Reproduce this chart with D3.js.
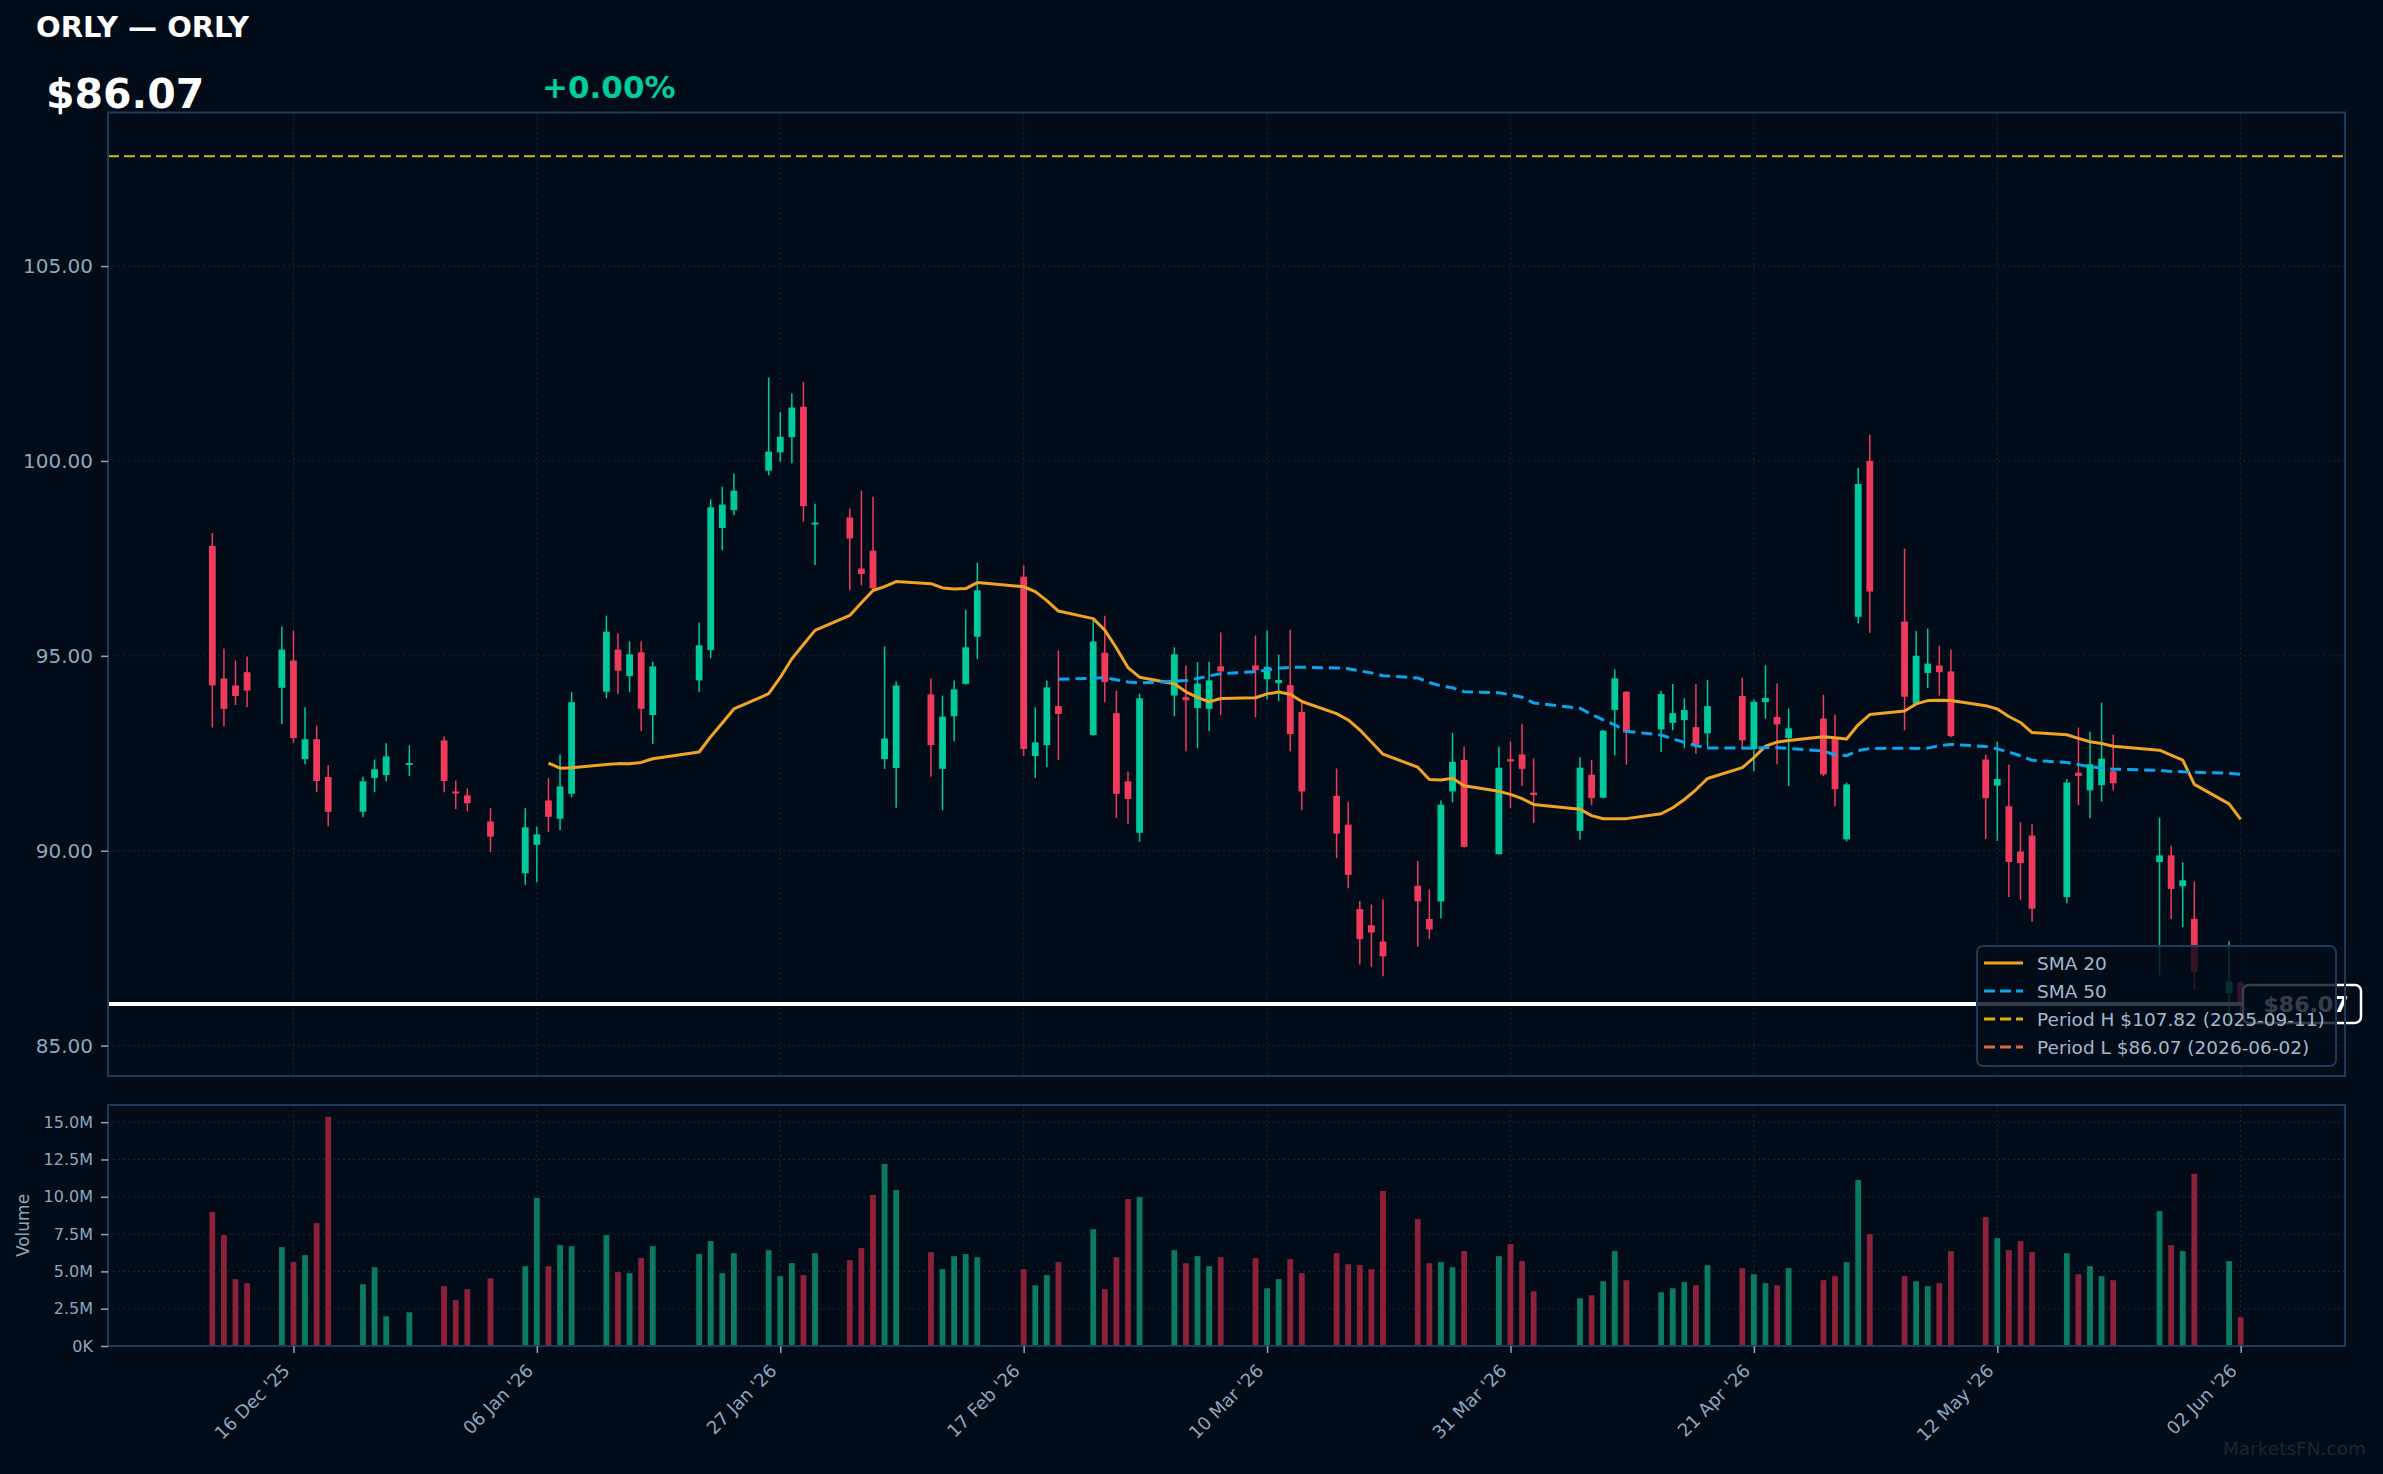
<!DOCTYPE html>
<html><head><meta charset="utf-8">
<script src="https://cdn.jsdelivr.net/npm/d3@7/dist/d3.min.js"></script>
<style>
html,body{margin:0;padding:0;background:#010c18;}
svg{display:block;}
text{font-family:"DejaVu Sans",sans-serif;}
</style></head><body>
<svg id="chart" width="2383" height="1474"></svg>
<script>
// ---------------- DATA ----------------
const dates = ["2025-12-09","2025-12-10","2025-12-11","2025-12-12","2025-12-15","2025-12-16","2025-12-17","2025-12-18","2025-12-19","2025-12-22","2025-12-23","2025-12-24","2025-12-26","2025-12-29","2025-12-30","2025-12-31",
"2026-01-02","2026-01-05","2026-01-06","2026-01-07","2026-01-08","2026-01-09","2026-01-12","2026-01-13","2026-01-14","2026-01-15","2026-01-16","2026-01-20","2026-01-21","2026-01-22","2026-01-23","2026-01-26","2026-01-27","2026-01-28","2026-01-29","2026-01-30",
"2026-02-02","2026-02-03","2026-02-04","2026-02-05","2026-02-06","2026-02-09","2026-02-10","2026-02-11","2026-02-12","2026-02-13","2026-02-17","2026-02-18","2026-02-19","2026-02-20","2026-02-23","2026-02-24","2026-02-25","2026-02-26","2026-02-27",
"2026-03-02","2026-03-03","2026-03-04","2026-03-05","2026-03-06","2026-03-09","2026-03-10","2026-03-11","2026-03-12","2026-03-13","2026-03-16","2026-03-17","2026-03-18","2026-03-19","2026-03-20","2026-03-23","2026-03-24","2026-03-25","2026-03-26","2026-03-27","2026-03-30","2026-03-31",
"2026-04-01","2026-04-02","2026-04-06","2026-04-07","2026-04-08","2026-04-09","2026-04-10","2026-04-13","2026-04-14","2026-04-15","2026-04-16","2026-04-17","2026-04-20","2026-04-21","2026-04-22","2026-04-23","2026-04-24","2026-04-27","2026-04-28","2026-04-29","2026-04-30",
"2026-05-01","2026-05-04","2026-05-05","2026-05-06","2026-05-07","2026-05-08","2026-05-11","2026-05-12","2026-05-13","2026-05-14","2026-05-15","2026-05-18","2026-05-19","2026-05-20","2026-05-21","2026-05-22","2026-05-26","2026-05-27","2026-05-28","2026-05-29",
"2026-06-01","2026-06-02"];

const opens = [97.82,94.42,94.24,94.58,94.18,94.88,92.35,92.86,91.89,91.00,91.87,91.94,92.21,92.83,91.52,91.42,
90.75,89.42,90.15,91.29,90.82,91.46,94.08,95.16,94.48,95.09,93.48,94.37,95.15,98.28,98.74,99.75,100.22,100.61,101.39,98.38,
98.55,97.24,97.70,92.35,92.12,94.01,92.10,93.45,94.28,95.49,97.03,92.43,92.71,93.71,92.97,95.08,93.53,91.78,90.46,
93.98,93.94,93.66,93.64,94.73,94.75,94.40,94.30,94.25,93.56,91.41,90.67,88.50,88.09,87.67,89.10,88.25,88.70,91.52,92.33,89.91,92.35,
92.47,91.49,90.51,91.95,91.36,93.61,94.08,93.11,93.28,93.35,93.17,93.01,93.97,92.61,93.81,93.43,92.89,93.39,92.88,90.29,96.00,
100.00,95.88,93.77,94.56,94.75,94.60,92.34,91.67,91.14,89.98,90.39,88.81,92.00,91.55,91.68,92.04,89.71,89.88,89.09,88.25,
86.34,86.62];

const highs = [98.15,95.19,94.88,94.98,95.75,95.65,93.68,93.21,92.19,91.90,92.34,92.76,92.70,92.93,91.80,91.60,
91.09,91.09,90.62,91.86,92.47,94.07,96.03,95.58,95.37,95.37,94.85,95.85,99.01,99.34,99.68,102.14,101.25,101.73,102.03,98.90,
98.78,99.24,99.08,95.24,94.34,94.42,93.98,94.37,96.18,97.39,97.32,93.68,94.37,95.14,95.92,96.03,94.11,92.03,94.03,
95.22,94.75,94.84,94.85,95.60,95.52,95.65,95.03,95.67,93.80,92.11,91.25,88.71,88.62,88.75,89.74,89.00,91.29,93.02,92.67,92.67,92.80,
93.26,92.37,92.40,92.33,93.10,94.65,94.09,94.10,94.28,93.91,94.28,94.38,94.44,93.88,94.76,94.29,93.65,94.00,93.49,91.75,99.82,
100.67,97.75,95.64,95.70,95.26,95.16,92.47,92.80,92.21,90.73,90.68,91.84,93.16,93.05,93.80,92.98,90.85,90.13,89.70,89.21,
87.67,86.66];

const lows = [93.16,93.20,93.74,93.69,93.25,92.77,92.22,91.50,90.63,90.86,91.50,91.78,91.92,91.50,91.07,91.01,
89.96,89.12,89.19,90.48,90.53,91.37,93.91,94.02,94.07,93.07,92.74,94.07,94.94,97.71,98.61,99.63,99.98,99.94,98.44,97.33,
96.68,96.81,96.70,92.10,91.10,91.90,91.04,92.81,94.26,94.92,92.43,91.87,92.15,92.33,92.95,93.81,90.84,90.69,90.23,
93.45,92.55,92.63,93.07,93.48,93.42,93.88,93.84,92.55,91.04,89.81,89.04,87.08,87.02,86.78,87.54,87.73,88.26,91.24,90.08,89.90,91.10,
91.66,90.71,90.29,91.17,91.34,92.45,92.21,92.53,93.09,92.63,92.49,92.66,92.60,92.04,93.39,92.22,91.66,91.91,91.14,90.24,95.83,
95.59,93.09,93.75,94.17,93.98,92.91,90.30,90.25,88.81,88.74,88.18,88.65,91.17,90.83,91.26,91.55,86.81,88.25,88.04,86.43,
85.45,85.40];

const closes = [94.24,93.64,93.97,94.11,95.16,92.89,92.86,91.79,91.00,91.78,92.09,92.42,92.25,91.79,91.49,91.22,
90.36,90.60,90.42,90.87,91.65,93.81,95.62,94.62,95.04,93.64,94.73,95.27,98.81,98.88,99.24,100.24,100.62,101.37,98.84,98.42,
98.01,97.10,96.73,92.88,94.24,92.71,93.44,94.14,95.22,96.68,92.61,92.78,94.19,93.51,95.37,94.33,91.46,91.33,93.91,
95.04,93.86,94.29,94.37,94.60,94.63,94.72,94.38,92.99,91.52,90.44,89.38,87.73,87.90,87.29,88.70,87.98,91.18,92.28,90.10,92.13,92.29,
92.10,91.43,92.13,91.35,93.08,94.42,93.03,94.02,93.53,93.61,92.72,93.71,92.83,93.82,93.92,93.24,93.14,91.96,91.58,91.70,99.41,
96.65,93.95,95.00,94.80,94.58,92.94,91.35,91.84,89.71,89.68,88.51,91.75,91.92,92.22,92.36,91.73,89.88,89.02,89.24,86.89,
86.64,86.07];

// volume in millions of shares
const volumesM = [8.98,7.43,4.48,4.21,6.63,5.62,6.09,8.24,15.36,4.14,5.28,1.99,2.26,4.01,3.07,3.81,
4.54,5.35,9.92,5.35,6.76,6.69,7.43,4.95,4.88,5.89,6.69,6.16,7.03,4.88,6.22,6.42,4.68,5.55,4.75,6.22,
5.75,6.56,10.12,12.20,10.45,6.29,5.15,6.02,6.16,5.95,5.15,4.07,4.75,5.62,7.83,3.81,5.95,9.85,9.98,
6.42,5.55,6.02,5.35,5.95,5.89,3.87,4.48,5.82,4.88,6.22,5.48,5.42,5.15,10.39,8.51,5.55,5.62,5.28,6.36,6.02,6.83,
5.69,3.67,3.20,3.40,4.34,6.36,4.41,3.60,3.87,4.28,4.07,5.42,5.22,4.81,4.21,4.07,5.22,4.41,4.68,5.62,11.13,
7.50,4.68,4.34,4.01,4.21,6.36,8.64,7.23,6.42,7.03,6.29,6.22,4.81,5.35,4.68,4.41,9.04,6.76,6.36,11.53,
5.69,1.93];

const priceTicks = [85, 90, 95, 100, 105];
const volumeTicksM = [0, 2.5, 5, 7.5, 10, 12.5, 15];
const xTickDates = ["2025-12-16","2026-01-06","2026-01-27","2026-02-17","2026-03-10","2026-03-31","2026-04-21","2026-05-12","2026-06-02"];
const xDomainDates = ["2025-11-30","2026-06-11"];
const priceDomain = [84.22, 108.94];
const volumeMaxM = 16.15;
const periodHigh = 107.82, periodHighDate = "2025-09-11";
const periodLow = 86.07, periodLowDate = "2026-06-02";
const lastPrice = 86.07, changePct = 0.00;
const ticker = "ORLY", company = "ORLY";
const smaWindows = [20, 50];

// ---------------- LAYOUT ----------------
const C = {
  bg:"#010c18", frame:"#1e3a5a", grid:"#17283a", tick:"#8ea6bf", legendText:"#a3b8ce",
  up:"#00c99e", down:"#f03a5b", volUp:"#0a7a60", volDown:"#8c2139",
  sma20:"#f2a324", sma50:"#0ca5ec", pH:"#d8b208", pL:"#e3663b"
};
const L = {left:108, right:2345, pTop:112.5, pBot:1076, vTop:1105, vBot:1346};

const parse = d3.timeParse("%Y-%m-%d");
const data = dates.map((d,i)=>({date:parse(d), o:opens[i], h:highs[i], l:lows[i], c:closes[i], v:volumesM[i]*1e6}));

const svg = d3.select("#chart");
svg.append("rect").attr("width",2383).attr("height",1474).attr("fill",C.bg);

const x = d3.scaleTime().domain(xDomainDates.map(parse)).range([L.left, L.right]);
const y = d3.scaleLinear().domain(priceDomain).range([L.pBot, L.pTop]);
const yv = d3.scaleLinear().domain([0, volumeMaxM*1e6]).range([L.vBot, L.vTop]);
const xTicks = xTickDates.map(parse);

// grids
const grid = svg.append("g");
grid.selectAll(".hg").data(priceTicks).join("line")
  .attr("x1",L.left).attr("x2",L.right).attr("y1",d=>y(d)).attr("y2",d=>y(d))
  .attr("stroke",C.grid).attr("stroke-width",1).attr("stroke-dasharray","2,3");
grid.selectAll(".vg").data(xTicks).join("line")
  .attr("x1",d=>x(d)).attr("x2",d=>x(d)).attr("y1",L.pTop).attr("y2",L.pBot)
  .attr("stroke",C.grid).attr("stroke-width",1).attr("stroke-dasharray","2,3");
grid.selectAll(".hgv").data(volumeTicksM).join("line")
  .attr("x1",L.left).attr("x2",L.right).attr("y1",d=>yv(d*1e6)).attr("y2",d=>yv(d*1e6))
  .attr("stroke",C.grid).attr("stroke-width",1).attr("stroke-dasharray","2,3");
grid.selectAll(".vgv").data(xTicks).join("line")
  .attr("x1",d=>x(d)).attr("x2",d=>x(d)).attr("y1",L.vTop).attr("y2",L.vBot)
  .attr("stroke",C.grid).attr("stroke-width",1).attr("stroke-dasharray","2,3");

// period lines
svg.append("line").attr("x1",L.left).attr("x2",L.right).attr("y1",y(periodHigh)).attr("y2",y(periodHigh))
  .attr("stroke",C.pH).attr("stroke-width",2).attr("stroke-dasharray","11,5");
svg.append("line").attr("x1",L.left).attr("x2",L.right).attr("y1",y(periodLow)).attr("y2",y(periodLow))
  .attr("stroke",C.pL).attr("stroke-width",2).attr("stroke-dasharray","11,5");

// candles
const bodyW = 6.8;
const cg = svg.append("g");
cg.selectAll(".wick").data(data).join("line")
  .attr("x1",d=>x(d.date)).attr("x2",d=>x(d.date)).attr("y1",d=>y(d.h)).attr("y2",d=>y(d.l))
  .attr("stroke",d=>d.c>=d.o?C.up:C.down).attr("stroke-width",1.5);
cg.selectAll(".body").data(data).join("rect")
  .attr("x",d=>x(d.date)-bodyW/2).attr("width",bodyW)
  .attr("y",d=>y(Math.max(d.o,d.c)))
  .attr("height",d=>Math.max(2,Math.abs(y(d.o)-y(d.c))))
  .attr("fill",d=>d.c>=d.o?C.up:C.down);

// SMAs (derived from closes)
function sma(n){
  return data.map((d,i)=> i<n-1 ? null : {date:d.date, v:d3.mean(closes.slice(i-n+1,i+1))}).filter(Boolean);
}
const line = d3.line().x(d=>x(d.date)).y(d=>y(d.v));
svg.append("path").datum(sma(smaWindows[0])).attr("d",line).attr("fill","none")
  .attr("stroke",C.sma20).attr("stroke-width",3).attr("stroke-linejoin","round");
svg.append("path").datum(sma(smaWindows[1])).attr("d",line).attr("fill","none")
  .attr("stroke",C.sma50).attr("stroke-width",3).attr("stroke-dasharray","11,6");

// last price line + label
const labelX = 2243, labelW = 118, labelH = 38;
svg.append("line").attr("x1",L.left).attr("x2",labelX).attr("y1",y(lastPrice)).attr("y2",y(lastPrice))
  .attr("stroke","#ffffff").attr("stroke-width",4);
svg.append("rect").attr("x",labelX).attr("y",y(lastPrice)-labelH/2).attr("width",labelW).attr("height",labelH)
  .attr("rx",6).attr("fill",C.bg).attr("stroke","#ffffff").attr("stroke-width",2.5);
svg.append("text").attr("x",labelX+labelW/2+4).attr("y",y(lastPrice)+8)
  .attr("text-anchor","middle").attr("fill","#ffffff").attr("font-weight","bold").attr("font-size",22)
  .text("$"+lastPrice.toFixed(2));

// volume bars
const volW = 5.8;
svg.append("g").selectAll("rect").data(data).join("rect")
  .attr("x",d=>x(d.date)-volW/2).attr("width",volW)
  .attr("y",d=>yv(d.v)).attr("height",d=>yv(0)-yv(d.v))
  .attr("fill",d=>d.c>=d.o?C.volUp:C.volDown);

// frames
svg.append("rect").attr("x",L.left).attr("y",L.pTop).attr("width",L.right-L.left).attr("height",L.pBot-L.pTop)
  .attr("fill","none").attr("stroke",C.frame).attr("stroke-width",2);
svg.append("rect").attr("x",L.left).attr("y",L.vTop).attr("width",L.right-L.left).attr("height",L.vBot-L.vTop)
  .attr("fill","none").attr("stroke",C.frame).attr("stroke-width",2);

// axes
function styleAxis(g,size){
  g.select(".domain").remove();
  g.selectAll(".tick line").attr("stroke",C.tick).attr("stroke-width",1.5);
  g.selectAll(".tick text").attr("fill",C.tick).attr("font-size",size).attr("font-family","DejaVu Sans");
}
svg.append("g").attr("transform",`translate(${L.left},0)`)
  .call(d3.axisLeft(y).tickValues(priceTicks).tickFormat(d3.format(".2f")).tickSize(7).tickPadding(8))
  .call(g=>styleAxis(g,20));
svg.append("g").attr("transform",`translate(${L.left},0)`)
  .call(d3.axisLeft(yv).tickValues(volumeTicksM.map(v=>v*1e6))
    .tickFormat(v=> v===0 ? "0K" : (v/1e6).toFixed(1)+"M").tickSize(7).tickPadding(8))
  .call(g=>styleAxis(g,16));
const fmt = d3.timeFormat("%d %b '%y");
svg.append("g").attr("transform",`translate(0,${L.vBot})`)
  .call(d3.axisBottom(x).tickValues(xTicks).tickFormat(fmt).tickSize(7))
  .call(g=>{
    styleAxis(g,18);
    g.selectAll(".tick text").attr("y",0).attr("dy",0).attr("x",0)
      .attr("transform","translate(-3,26) rotate(-45)").style("text-anchor","end");
  });
svg.append("text").attr("transform",`translate(29,${(L.vTop+L.vBot)/2}) rotate(-90)`)
  .attr("text-anchor","middle").attr("fill",C.tick).attr("font-size",17).text("Volume");

// legend
const lg = svg.append("g");
lg.append("rect").attr("x",1977).attr("y",946).attr("width",359).attr("height",120).attr("rx",6)
  .attr("fill","#020d1a").attr("fill-opacity",0.8).attr("stroke",C.frame).attr("stroke-width",2);
const items = [
  {label:"SMA 20", color:C.sma20, dash:null},
  {label:"SMA 50", color:C.sma50, dash:"11,5"},
  {label:`Period H $${periodHigh.toFixed(2)} (${periodHighDate})`, color:C.pH, dash:"11,5"},
  {label:`Period L $${periodLow.toFixed(2)} (${periodLowDate})`, color:C.pL, dash:"11,5"}
];
items.forEach((it,i)=>{
  const cy = 963 + i*28;
  lg.append("line").attr("x1",1984).attr("x2",2023).attr("y1",cy).attr("y2",cy)
    .attr("stroke",it.color).attr("stroke-width",2.8).attr("stroke-dasharray",it.dash);
  lg.append("text").attr("x",2037).attr("y",cy+6.5).attr("fill",C.legendText).attr("font-size",18.5).text(it.label);
});

// header
svg.append("text").attr("x",36).attr("y",37).attr("fill","#ffffff").attr("font-weight","bold").attr("font-size",29)
  .text(`${ticker} — ${company}`);
svg.append("text").attr("x",46).attr("y",108).attr("fill","#ffffff").attr("font-weight","bold").attr("font-size",41)
  .text("$"+lastPrice.toFixed(2));
svg.append("text").attr("x",542).attr("y",98).attr("fill","#00cc9c").attr("font-weight","bold").attr("font-size",31)
  .text((changePct>=0?"+":"")+changePct.toFixed(2)+"%");

// watermark
svg.append("text").attr("x",2366).attr("y",1455).attr("text-anchor","end").attr("fill","#16283a")
  .attr("font-size",18.5).text("MarketsFN.com");
</script>
</body></html>
